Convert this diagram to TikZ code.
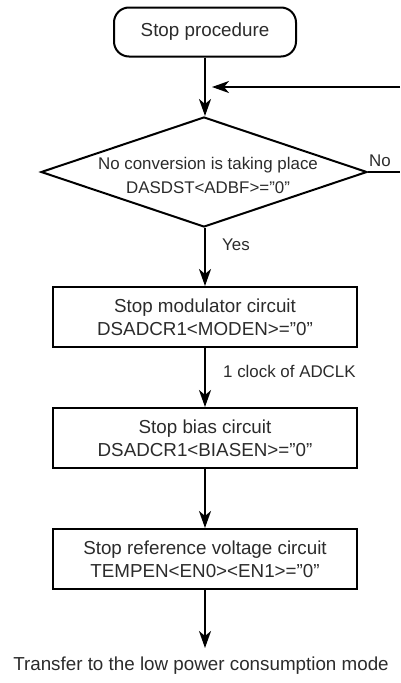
\documentclass[tikz,border=0pt]{standalone}
\usepackage{fontspec}
\setmainfont{Liberation Sans}
\usetikzlibrary{shapes.geometric,arrows.meta}
\definecolor{txt}{HTML}{2B2B2B}
\tikzset{
  base/.style={font=\fontsize{18.8}{23}\selectfont, text=txt},
  small/.style={font=\fontsize{16.9}{24}\selectfont, text=txt},
  flow/.style={draw=black, line width=2pt, -{Stealth[length=17pt,width=12pt,inset=5pt]}},
  procbox/.style={base, draw=black, line width=2pt, rectangle, minimum width=304pt, minimum height=60pt, inner sep=0pt, align=center},
  termbox/.style={base, draw=black, line width=2pt, rectangle, rounded corners=15pt, minimum width=182pt, minimum height=49pt, inner sep=0pt},
  decbox/.style={draw=black, line width=2pt, diamond, minimum width=326pt, minimum height=110pt, inner sep=0pt},
  lbl/.style={small, inner sep=0pt}
}
\begin{document}
\begin{tikzpicture}[x=1pt,y=-1pt]
\useasboundingbox (0,0) rectangle (400,683);
\node[termbox] (start) at (205,32) {Stop procedure};
\node[decbox] (dec) at (204,172) {};
\node[small, align=center, inner sep=0pt] (dectext) at (208,175) {No conversion is taking place\\DASDST<ADBF>=”0”};
\node[procbox] (b1) at (205,317) {Stop modulator circuit\\DSADCR1<MODEN>=”0”};
\node[procbox] (b2) at (205,438) {Stop bias circuit\\DSADCR1<BIASEN>=”0”};
\node[procbox] (b3) at (205,559) {Stop reference voltage circuit\\TEMPEN<EN0><EN1>=”0”};
\node[base, inner sep=0pt, anchor=base] (fin) at (201,670) {Transfer to the low power consumption mode};
\coordinate (finTop) at (205,648);
\coordinate (fbIn) at (400,87);
\coordinate (fbTip) at (212,87);
\coordinate (noOut) at (400,172);
\node[lbl, anchor=base west] (yes) at (222,250) {Yes};
\node[lbl, anchor=base west] (no) at (369,166) {No};
\node[lbl, anchor=base west] (clk) at (223,377) {1 clock of ADCLK};
\draw[flow] (start.south) -- (start.south |- dec.north);
\draw[flow] (fbIn) -- (fbTip);
\draw[line width=2pt] (dec.east) -- (noOut);
\draw[flow] (dec.south -| b1.north) -- (b1.north);
\draw[flow] (b1.south) -- (b2.north);
\draw[flow] (b2.south) -- (b3.north);
\draw[flow] (b3.south) -- (finTop);
\end{tikzpicture}
\end{document}
